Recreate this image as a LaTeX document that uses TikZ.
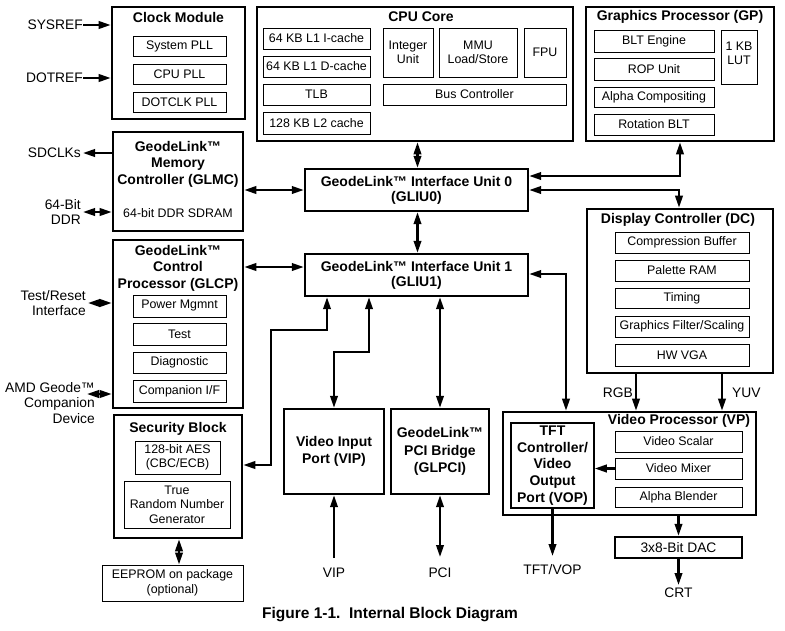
\documentclass[tikz,border=0pt]{standalone}
\usepackage{fontspec}
\setmainfont{Liberation Sans}
\usetikzlibrary{arrows.meta}
\tikzset{
 big/.style={draw, line width=2.6pt, inner sep=0pt},
 sub/.style={draw, line width=1pt, inner sep=0pt, align=center, font=\fontsize{12.4}{14.5}\selectfont},
 mid/.style={draw, line width=2.4pt, inner sep=0pt, align=center, font=\fontsize{14}{17}\selectfont\bfseries},
 ttl/.style={inner sep=0pt, align=center, font=\fontsize{14}{16.5}\selectfont\bfseries},
 lbl/.style={inner sep=0pt, align=right, font=\fontsize{13.8}{15.8}\selectfont},
 conn/.style={line width=2.2pt, >={Triangle[length=12pt,width=7.5pt]}},
}
\newcommand\mybox[7]{\node[#1, minimum width={(#5-#3)*1pt}, minimum height={(#6-#4)*1pt}] (#2) at ({(#3+#5)/2},{(#4+#6)/2}) {#7};}
\begin{document}
\begin{tikzpicture}[x=1pt,y=-1pt]
\fill[white] (0,0) rectangle (785,630);
\useasboundingbox (0,0) rectangle (785,630);
% Clock module
\mybox{big}{clk}{112}{7}{245}{119}{}
\node[ttl] (clkt) at (178.5,17) {Clock Module};
\mybox{sub}{spll}{133}{36}{226}{56}{System PLL}
\mybox{sub}{cpll}{133}{64}{226}{84}{CPU PLL}
\mybox{sub}{dpll}{133}{92}{226}{112}{DOTCLK PLL}
% CPU core
\mybox{big}{cpu}{257}{7}{573}{141}{}
\node[ttl] (cput) at (421,17) {CPU Core};
\mybox{sub}{icache}{263}{28}{370}{49}{64 KB L1 I-cache}
\mybox{sub}{dcache}{263}{56}{370}{77}{64 KB L1 D-cache}
\mybox{sub}{tlb}{263}{84}{370}{105}{TLB}
\mybox{sub}{ltwo}{263}{112}{370}{134}{128 KB L2 cache}
\mybox{sub}{intu}{383}{28}{433}{77}{Integer\\Unit}
\mybox{sub}{mmu}{439}{28}{517}{77}{MMU\\Load/Store}
\mybox{sub}{fpu}{524}{28}{566}{77}{FPU}
\mybox{sub}{busc}{383}{84}{566}{105}{Bus Controller}
% GP
\mybox{big}{gp}{586}{7}{774}{141}{}
\node[ttl] (gpt) at (680,17) {Graphics Processor (GP)};
\mybox{sub}{blt}{594}{30}{714}{52}{BLT Engine}
\mybox{sub}{rop}{594}{58}{714}{80}{ROP Unit}
\mybox{sub}{alpha}{594}{87}{714}{107}{Alpha Compositing}
\mybox{sub}{rot}{594}{114}{714}{135}{Rotation BLT}
\mybox{sub}{lut}{721}{30}{757}{84}{}
\node[inner sep=0pt, align=center, font=\fontsize{12.4}{14}\selectfont] (lutt) at (739,53) {1 KB\\LUT};
% GLMC
\mybox{big}{glmc}{113}{132}{243}{231}{}
\node[ttl] (glmct) at (178,164) {GeodeLink™\\Memory\\Controller (GLMC)};
\node[inner sep=0pt, font=\fontsize{12.4}{14.5}\selectfont] (ddrs) at (178,213) {64-bit DDR SDRAM};
% GLCP
\mybox{big}{glcp}{113}{240}{243}{408}{}
\node[ttl] (glcpt) at (178,268) {GeodeLink™\\Control\\Processor (GLCP)};
\mybox{sub}{pwr}{133}{295}{226}{317}{Power Mgmnt}
\mybox{sub}{tst}{133}{323}{226}{345}{Test}
\mybox{sub}{diag}{133}{352}{226}{373}{Diagnostic}
\mybox{sub}{comp}{133}{380}{226}{402}{Companion I/F}
% Security
\mybox{big}{sec}{114}{415}{242}{538}{}
\node[ttl] (sect) at (178,429) {Security Block};
\mybox{sub}{aes}{135}{441}{220}{474}{128-bit AES\\(CBC/ECB)}
\mybox{sub}{trng}{124}{481}{230}{528}{True\\Random Number\\Generator}
\mybox{sub}{eeprom}{102}{565}{243}{601}{EEPROM on package\\(optional)}
% GLIU
\mybox{mid, font=\fontsize{14}{15}\selectfont\bfseries}{gliu0}{305}{169}{528}{211}{GeodeLink™ Interface Unit 0\\(GLIU0)}
\mybox{mid, font=\fontsize{14}{15}\selectfont\bfseries}{gliu1}{305}{254}{528}{296}{GeodeLink™ Interface Unit 1\\(GLIU1)}
% VIP, GLPCI
\mybox{mid}{vip}{284}{409}{384}{494}{Video Input\\Port (VIP)}
\mybox{mid, font=\fontsize{14}{17.5}\selectfont\bfseries}{glpci}{391}{409}{489}{494}{GeodeLink™\\PCI Bridge\\(GLPCI)}
% DC
\mybox{big}{dc}{587}{209}{773}{373}{}
\node[ttl] (dct) at (678,220) {Display Controller (DC)};
\mybox{sub}{cbuf}{615}{232}{749}{253}{Compression Buffer}
\mybox{sub}{pal}{615}{260}{749}{281}{Palette RAM}
\mybox{sub}{tim}{615}{288}{749}{308}{Timing}
\mybox{sub}{gfs}{615}{316}{749}{337}{Graphics Filter/Scaling}
\mybox{sub}{vga}{615}{344}{749}{366}{HW VGA}
% VP
\mybox{big}{vp}{503}{412}{756}{515}{}
\node[ttl] (vpt) at (679,421) {Video Processor (VP)};
\mybox{sub}{vsc}{615}{431}{742}{452}{Video Scalar}
\mybox{sub}{vmix}{615}{458}{742}{479}{Video Mixer}
\mybox{sub}{ablend}{615}{487}{742}{507}{Alpha Blender}
\mybox{sub, line width=1.5pt, font=\fontsize{14}{16.7}\selectfont\bfseries}{tft}{511}{423}{594}{508}{TFT\\Controller/\\Video\\Output\\Port (VOP)}
\mybox{big, line width=2.4pt, font=\fontsize{13.8}{16}\selectfont}{dac}{615}{537}{742}{558}{3x8-Bit DAC}
% labels
\node[lbl, anchor=east] (sysref) at (83,25) {SYSREF};
\node[lbl, anchor=east] (dotref) at (83,78) {DOTREF};
\node[lbl, anchor=east] (sdclk) at (81,153) {SDCLKs};
\node[lbl, anchor=east] (ddr) at (81,212) {64-Bit\\DDR};
\node[lbl, anchor=east] (tr) at (86,303) {Test/Reset\\Interface};
\node[lbl, anchor=east] (amd) at (95,403) {AMD Geode™\\Companion\\Device};
\node[lbl] (viplbl) at (334,573) {VIP};
\node[lbl] (pcilbl) at (440,573) {PCI};
\node[lbl] (tftlbl) at (552.5,570) {TFT/VOP};
\node[lbl] (crtlbl) at (678.5,593) {CRT};
\node[lbl, anchor=east] (rgb) at (633,393) {RGB};
\node[lbl, anchor=west] (yuv) at (732,393) {YUV};
\node[inner sep=0pt, font=\fontsize{15.5}{18}\selectfont\bfseries] (cap) at (390,615) {Figure 1-1.\ \ Internal Block Diagram};
% free ends
\coordinate (vipin) at (334,558);
\coordinate (pciend) at (440,557);
\coordinate (tftend) at (552.5,556);
\coordinate (crtend) at (678.5,585);
% connectors
\begin{scope}[conn]
\draw[->] (sysref.east) -- (clk.west |- sysref.east);
\draw[->] (dotref.east) -- (clk.west |- dotref.east);
\draw[->] (glmc.west |- sdclk.east) -- ([xshift=2pt]sdclk.east);
\draw[<->] ([xshift=2pt]ddr.east) -- (glmc.west |- ddr.east);
\draw[<->] ([xshift=2pt]tr.east) -- (glcp.west |- tr.east);
\draw[<->] (87,394) -- (glcp.west |- 0,394);
\draw[<->] (glmc.east |- gliu0.west) -- (gliu0.west);
\draw[<->] (cpu.south -| 417.5,0) -- (gliu0.north -| 417.5,0);
\draw[<->] (gliu0.south -| 417.5,0) -- (gliu1.north -| 417.5,0);
\draw[<->] (gliu0.east |- 0,176) -- (680,176) -- (gp.south -| 680,0);
\draw[<->] (gliu0.east |- 0,190) -- (679,190) -- (dc.north -| 679,0);
\draw[<->] (glcp.east |- 0,267) -- (gliu1.west |- 0,267);
\draw[<->] (gliu1.south -| 327,0) -- (327,330) -- (271,330) -- (271,465) -- (sec.east |- 0,465);
\draw[<->] (gliu1.south -| 369,0) -- (369,352) -- (334,352) -- (vip.north -| 334,0);
\draw[<->] (gliu1.south -| 440,0) -- (glpci.north -| 440,0);
\draw[<->] (gliu1.east |- 0,274) -- (566,274) -- (vp.north -| 566,0);
\draw[->] (dc.south -| 636,0) -- (vp.north -| 636,0);
\draw[->] (dc.south -| 722,0) -- (vp.north -| 722,0);
\draw[->] (vmix.west) -- (tft.east |- vmix.west);
\draw[->] (tft.south) -- (tftend);
\draw[->] (vp.south -| dac.north) -- (dac.north);
\draw[->] (dac.south) -- (crtend);
\draw[->] (vipin) -- (vip.south -| vipin);
\draw[<->] (glpci.south -| pciend) -- (pciend);
\draw[<->] (sec.south -| 179,0) -- (eeprom.north -| 179,0);
\end{scope}
\end{tikzpicture}
\end{document}
